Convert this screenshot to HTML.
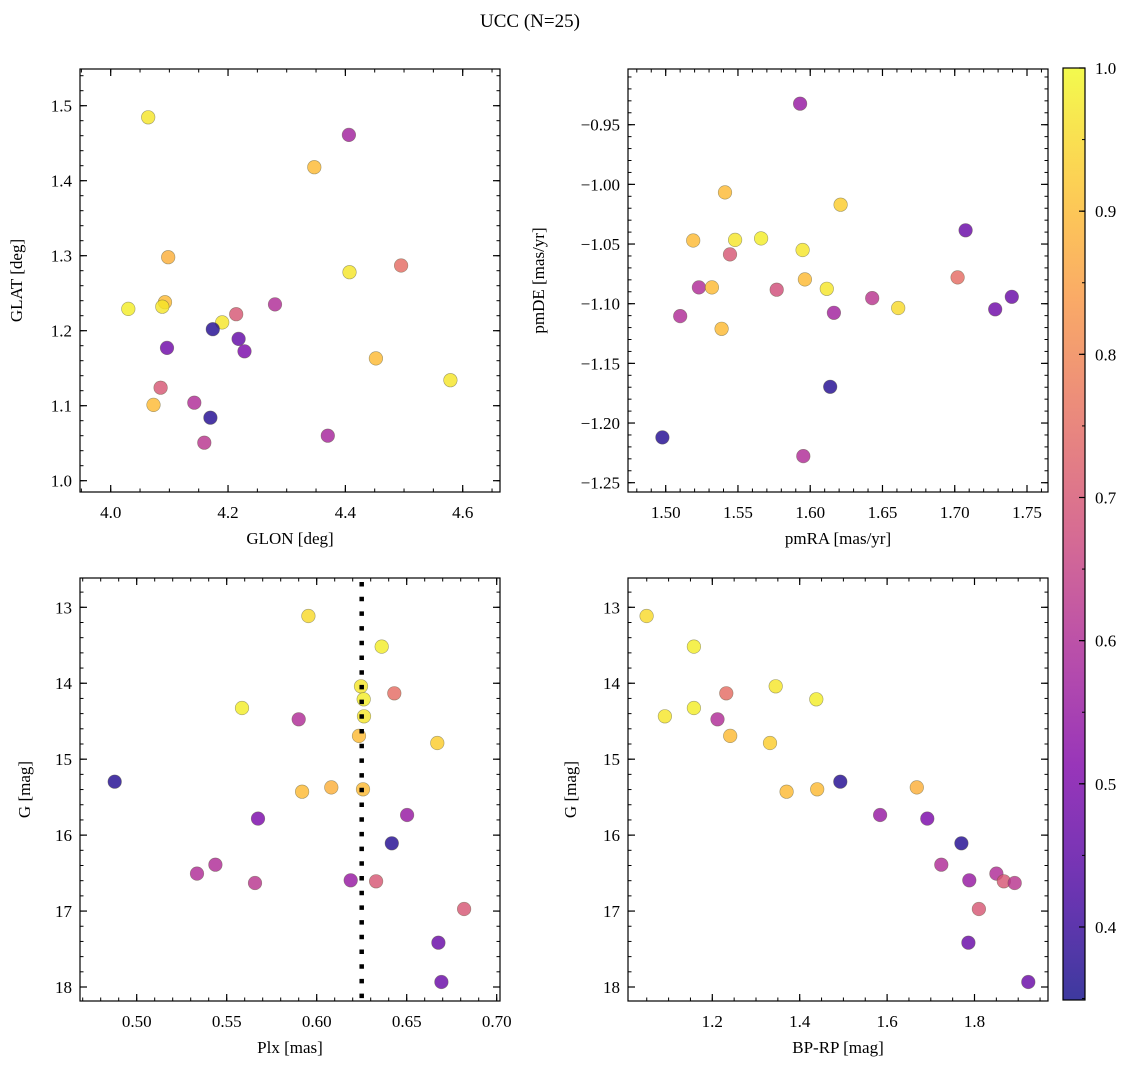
<!DOCTYPE html>
<html><head><meta charset="utf-8"><title>UCC (N=25)</title>
<style>
html,body{margin:0;padding:0;background:#fff;}
svg{display:block;}
.tk{font-family:"Liberation Serif","DejaVu Serif",serif;font-size:17px;fill:#000;}
.lb{font-family:"Liberation Serif","DejaVu Serif",serif;font-size:17px;fill:#000;}
</style></head>
<body>
<svg id="fig" width="1136" height="1068" viewBox="0 0 1136 1068" xmlns="http://www.w3.org/2000/svg">
<text x="530" y="27" text-anchor="middle" class="lb" style="font-size:19px">UCC (N=25)</text>
</svg>
<script>
// ---- data ----
const glon = [4.064,4.406,4.347,4.098,4.407,4.495,4.030,4.0925,4.088,4.280,4.214,4.190,4.174,4.218,4.228,4.096,4.452,4.579,4.085,4.073,4.1425,4.170,4.1595,4.370];
const glat = [1.4845,1.461,1.418,1.298,1.278,1.287,1.229,1.238,1.232,1.235,1.222,1.211,1.202,1.189,1.1725,1.177,1.163,1.134,1.124,1.101,1.104,1.084,1.0507,1.060];
const probPos = [0.97,0.57,0.9,0.88,0.97,0.75,0.98,0.9,0.97,0.6,0.7,0.97,0.37,0.46,0.5,0.48,0.9,0.97,0.7,0.9,0.6,0.37,0.62,0.58];

const pmra = [1.593,1.541,1.621,1.7075,1.519,1.548,1.566,1.5947,1.5445,1.702,1.5963,1.523,1.532,1.5768,1.6115,1.7395,1.6429,1.6609,1.728,1.6164,1.510,1.5387,1.6138,1.4977,1.5952];
const pmde = [-0.9324,-1.0067,-1.017,-1.0385,-1.047,-1.0465,-1.0453,-1.055,-1.0587,-1.078,-1.0796,-1.0863,-1.0863,-1.0883,-1.0875,-1.0942,-1.0953,-1.1036,-1.1047,-1.1076,-1.1104,-1.121,-1.1696,-1.212,-1.2277];
const probPm = [0.55,0.9,0.93,0.47,0.9,0.97,0.98,0.97,0.7,0.75,0.9,0.6,0.9,0.68,0.97,0.47,0.62,0.95,0.48,0.57,0.6,0.9,0.37,0.37,0.6];

const gmag = [13.114,13.518,14.040,14.133,14.212,14.326,14.435,14.475,14.694,14.787,15.296,15.371,15.428,15.397,15.735,15.783,16.108,16.389,16.507,16.595,16.608,16.630,16.973,17.416,17.934];
const plx  = [0.5954,0.6361,0.6246,0.6431,0.6261,0.5585,0.6263,0.590,0.6235,0.667,0.4878,0.6081,0.5919,0.6257,0.6502,0.5674,0.6417,0.5437,0.5335,0.6189,0.633,0.5657,0.6819,0.6676,0.6693];
const bprp = [1.0496,1.158,1.345,1.232,1.438,1.158,1.0916,1.212,1.241,1.332,1.493,1.668,1.370,1.440,1.584,1.692,1.770,1.724,1.850,1.788,1.867,1.892,1.810,1.786,1.923];
const probPhot = [0.95,0.98,0.97,0.75,0.98,0.98,0.97,0.6,0.9,0.93,0.37,0.88,0.9,0.9,0.55,0.5,0.37,0.6,0.6,0.55,0.7,0.62,0.7,0.47,0.47];
const plxMedian = [0.625];

const cbTicks = [0.4,0.5,0.6,0.7,0.8,0.9,1.0];
const cmin = 0.349, cmax = 1.0;

// ---- helpers ----
const NS = "http://www.w3.org/2000/svg";
const svg = document.getElementById('fig');
function mk(tag, attrs, parent){
  const e = document.createElementNS(NS, tag);
  for (const k in attrs) e.setAttribute(k, attrs[k]);
  (parent||svg).appendChild(e);
  return e;
}
const plasma = [[13,8,135],[76,2,161],[126,3,168],[169,35,149],[204,71,120],[229,107,93],[248,148,65],[253,195,40],[240,249,33]];
function cmap(v){
  let t = (v - cmin)/(cmax - cmin); t = Math.max(0, Math.min(1, t));
  const p = t*(plasma.length-1); const i = Math.min(Math.floor(p), plasma.length-2); const f = p - i;
  const a = plasma[i], b = plasma[i+1];
  return `rgb(${Math.round(a[0]+(b[0]-a[0])*f)},${Math.round(a[1]+(b[1]-a[1])*f)},${Math.round(a[2]+(b[2]-a[2])*f)})`;
}
function lin(d0,d1,p0,p1){ return v => p0 + (v-d0)/(d1-d0)*(p1-p0); }
function fmt(v,dec){ let s = v.toFixed(dec); if (v < 0) s = '\u2212' + s.slice(1); return s; }

function panel(o){
  const g = mk('g', {});
  
  
  const L=o.L, T=o.T, R=o.R, B=o.B;
  const pg = mk('g', {}, g);
  
  
  for (let i=0;i<o.xs.length;i++){
    const c = mk('circle', {cx:o.sx(o.xs[i]).toFixed(1), cy:o.sy(o.ys[i]).toFixed(1), r:6.8, fill:cmap(o.cs[i]), 'fill-opacity':0.8, stroke:'rgba(90,90,60,0.55)', 'stroke-width':0.6}, pg);
    
    
  }
  if (o.extra) o.extra(g);
  const fr = mk('rect', {x:L, y:T, width:R-L, height:B-T, fill:'none', stroke:'#000', 'stroke-width':1.2}, g);
  
  
  const xa = mk('g', {}, g);
  
  
  for (let v=o.xmin0; v<=o.xmax0+1e-9; v+=o.xminor){
    const x = o.sx(v); if (x<L-0.5||x>R+0.5) continue;
    mk('line',{x1:x,x2:x,y1:B,y2:B-3.5,stroke:'#000','stroke-width':1},xa);
    mk('line',{x1:x,x2:x,y1:T,y2:T+3.5,stroke:'#000','stroke-width':1},xa);
  }
  o.xmaj.forEach(v=>{
    const x = o.sx(v);
    mk('line',{x1:x,x2:x,y1:B,y2:B-7,stroke:'#000','stroke-width':1.2},xa);
    mk('line',{x1:x,x2:x,y1:T,y2:T+7,stroke:'#000','stroke-width':1.2},xa);
    const t = mk('text',{x:x,y:B+26,'text-anchor':'middle',class:'tk'},xa);
    t.textContent = fmt(v,o.xdec);
    
    
  });
  const xl = mk('text',{x:(L+R)/2,y:B+52,'text-anchor':'middle',class:'lb'},xa);
  xl.textContent = o.xlabel;
  
  
  const ya = mk('g', {}, g);
  
  
  for (let v=o.ymin0; v<=o.ymax0+1e-9; v+=o.yminor){
    const y = o.sy(v); if (y<T-0.5||y>B+0.5) continue;
    mk('line',{x1:L,x2:L+3.5,y1:y,y2:y,stroke:'#000','stroke-width':1},ya);
    mk('line',{x1:R,x2:R-3.5,y1:y,y2:y,stroke:'#000','stroke-width':1},ya);
  }
  o.ymaj.forEach(v=>{
    const y = o.sy(v);
    mk('line',{x1:L,x2:L+7,y1:y,y2:y,stroke:'#000','stroke-width':1.2},ya);
    mk('line',{x1:R,x2:R-7,y1:y,y2:y,stroke:'#000','stroke-width':1.2},ya);
    const t = mk('text',{x:L-8,y:y+6,'text-anchor':'end',class:'tk'},ya);
    t.textContent = fmt(v,o.ydec);
    
    
  });
  const yl = mk('text',{x:0,y:0,'text-anchor':'middle',class:'lb',transform:`translate(${o.ylx},${(T+B)/2}) rotate(-90)`},ya);
  yl.textContent = o.ylabel;
  
  
}

panel({name:'glon-glat-panel', L:80,T:69,R:500,B:492,
  sx:lin(4.0,4.6,110.7,462.7), sy:lin(1.5,1.0,105.7,480.7),
  xs:glon, ys:glat, cs:probPos,
  xmaj:[4.0,4.2,4.4,4.6], xmin0:3.9, xmax0:4.7, xminor:0.05, xdec:1,
  ymaj:[1.0,1.1,1.2,1.3,1.4,1.5], ymin0:0.98, ymax0:1.56, yminor:0.02, ydec:1,
  xlabel:'GLON [deg]', ylabel:'GLAT [deg]', ylx:22});
panel({name:'pm-panel', L:628,T:69,R:1048,B:492,
  sx:lin(1.5,1.75,665.7,1027), sy:lin(-0.95,-1.25,124.7,482.7),
  xs:pmra, ys:pmde, cs:probPm,
  xmaj:[1.50,1.55,1.60,1.65,1.70,1.75], xmin0:1.47, xmax0:1.77, xminor:0.01, xdec:2,
  ymaj:[-0.95,-1.00,-1.05,-1.10,-1.15,-1.20,-1.25], ymin0:-1.26, ymax0:-0.90, yminor:0.01, ydec:2,
  xlabel:'pmRA [mas/yr]', ylabel:'pmDE [mas/yr]', ylx:544});
panel({name:'plx-g-panel', L:80,T:578,R:500,B:1001,
  sx:lin(0.5,0.6,136.7,316.7), sy:lin(13,18,607.3,987),
  xs:plx, ys:gmag, cs:probPhot,
  xmaj:[0.50,0.55,0.60,0.65,0.70], xmin0:0.46, xmax0:0.71, xminor:0.01, xdec:2,
  ymaj:[13,14,15,16,17,18], ymin0:12.6, ymax0:18.2, yminor:0.2, ydec:0,
  xlabel:'Plx [mas]', ylabel:'G [mag]', ylx:30,
  extra:function(g){
    const sx = lin(0.5,0.6,136.7,316.7);
    plxMedian.forEach(v=>{
      const l = mk('line',{x1:sx(v),x2:sx(v),y1:582,y2:1001,stroke:'#000','stroke-width':4.5,'stroke-dasharray':'4.5 10.2'},g);
      
      
    });
  }});
panel({name:'cmd-panel', L:628,T:578,R:1048,B:1001,
  sx:lin(1.2,1.4,712.3,799.7), sy:lin(13,18,607.3,987),
  xs:bprp, ys:gmag, cs:probPhot,
  xmaj:[1.2,1.4,1.6,1.8], xmin0:1.0, xmax0:2.0, xminor:0.05, xdec:1,
  ymaj:[13,14,15,16,17,18], ymin0:12.6, ymax0:18.2, yminor:0.2, ydec:0,
  xlabel:'BP-RP [mag]', ylabel:'G [mag]', ylx:576});

(function(){
  const L=1063,R=1085,T=68,B=1000;
  const sy = lin(cmin,cmax,B,T);
  const g = mk('g',{});
  
  
  const defs = mk('defs',{},g);
  const grad = mk('linearGradient',{id:'cbg',x1:0,y1:1,x2:0,y2:0},defs);
  for (let i=0;i<=20;i++){
    const v = cmin + (cmax-cmin)*i/20;
    mk('stop',{offset:(i/20).toFixed(3),'stop-color':cmap(v),'stop-opacity':0.8},grad);
  }
  const r = mk('rect',{x:L,y:T,width:R-L,height:B-T,fill:'url(#cbg)',stroke:'#000','stroke-width':1.2},g);
  
  
  for (let v=0.35; v<=1.0001; v+=0.05){
    const y = sy(v);
    mk('line',{x1:R,x2:R-3,y1:y,y2:y,stroke:'#000','stroke-width':1},g);
  }
  cbTicks.forEach(v=>{
    const y = sy(v);
    mk('line',{x1:R,x2:R-6,y1:y,y2:y,stroke:'#000','stroke-width':1.2},g);
    const t = mk('text',{x:R+10,y:y+6,class:'tk'},g);
    t.textContent = v.toFixed(1);
    
    
  });
})();
</script>
</body></html>
